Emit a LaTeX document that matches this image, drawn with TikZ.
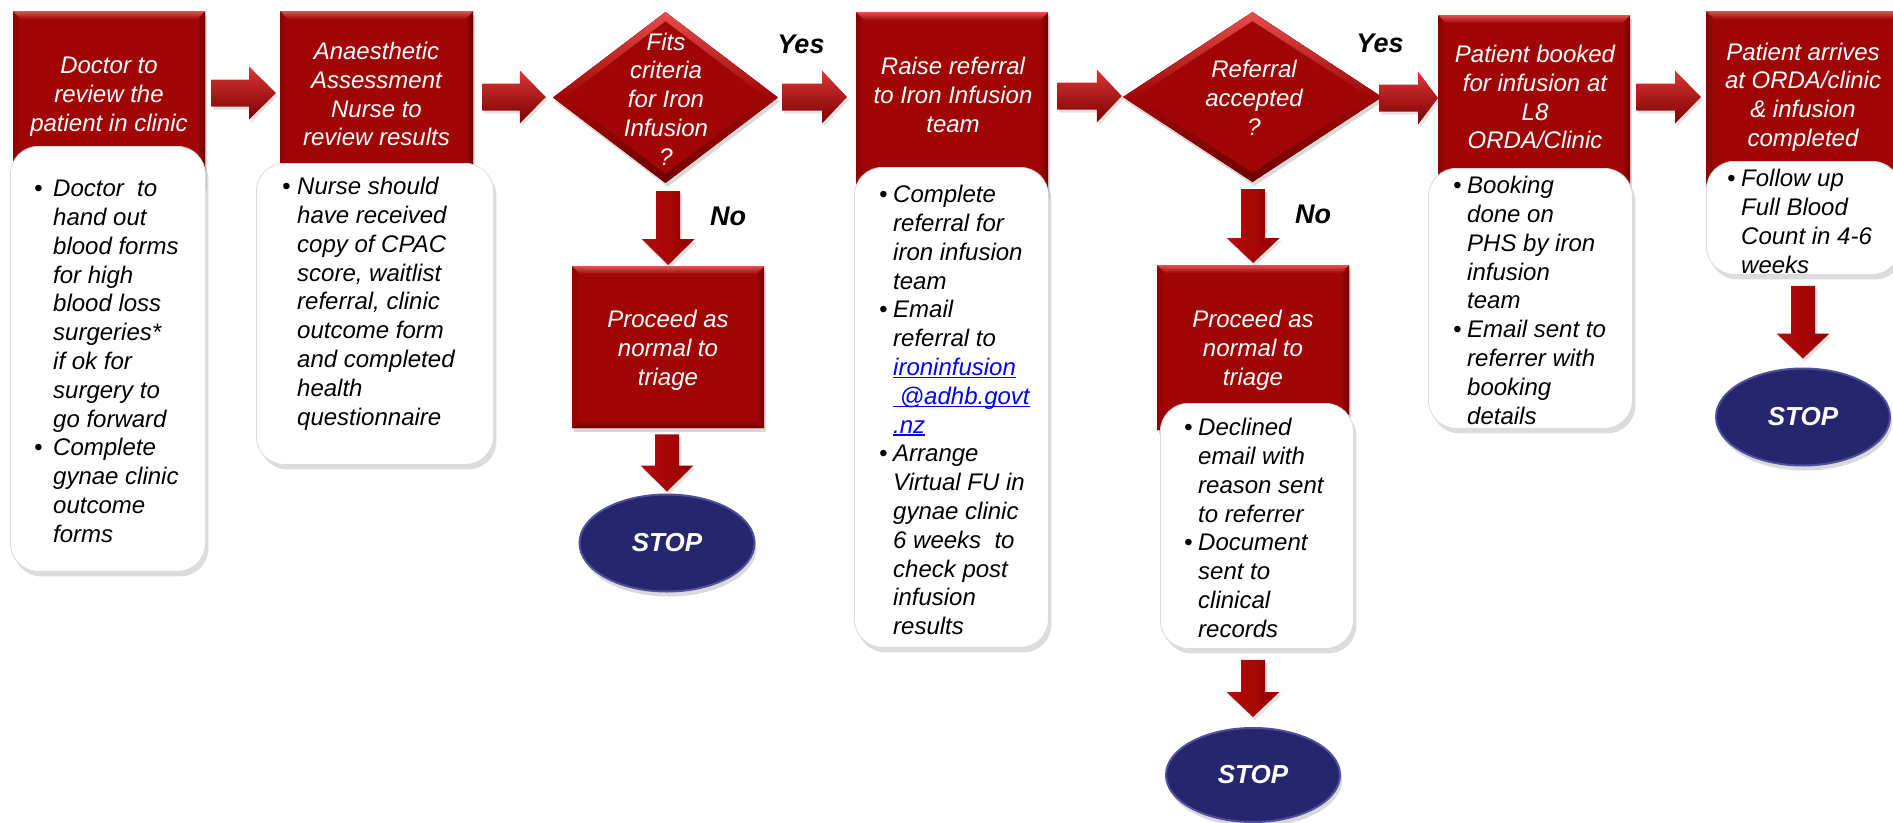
\documentclass[tikz,border=0pt]{standalone}
\usepackage{fontspec}
\setmainfont{Liberation Sans}
\usetikzlibrary{shapes.geometric,shadows,calc}

\definecolor{boxred}{RGB}{161,6,6}
\definecolor{bevellight}{RGB}{228,78,78}
\definecolor{bevelside}{RGB}{140,2,2}
\definecolor{beveldark}{RGB}{110,0,0}
\definecolor{arrtop}{RGB}{220,54,54}
\definecolor{arrmid}{RGB}{182,14,14}
\definecolor{arrbot}{RGB}{122,0,0}
\definecolor{arrleft}{RGB}{182,12,12}
\definecolor{arrridge}{RGB}{234,72,72}
\definecolor{arrright}{RGB}{150,0,0}
\definecolor{stopfill}{RGB}{38,38,110}
\definecolor{stoprim}{RGB}{78,78,158}
\definecolor{linkblue}{RGB}{0,0,255}

% line helpers for the multi-line texts
\newcommand\lnbr{\\\strut}
\newcommand\itm[1][14pt]{\strut\makebox[#1][l]{\textbullet}}
\newcommand\cnt[1][14pt]{\strut\hspace*{#1}}
\newcommand\ulink[1]{{\color{linkblue}\setbox0\hbox{#1}\rlap{\rule[-2.6pt]{\wd0}{1.3pt}}\box0}}

% block arrow pointing right: source anchor, target anchor, start gap, tip gap, y, head length
\newcommand\harrow[6]{%
  \path[harrowstyle] let \p1=(#1), \p2=(#2) in
    (\x1+#3pt,-#5pt+13.5pt) -- (\x2-#4pt-#6pt,-#5pt+13.5pt) -- (\x2-#4pt-#6pt,-#5pt+26.5pt)
    -- (\x2-#4pt,-#5pt) -- (\x2-#4pt-#6pt,-#5pt-26.5pt) -- (\x2-#4pt-#6pt,-#5pt-13.5pt)
    -- (\x1+#3pt,-#5pt-13.5pt) -- cycle;}
% block arrow pointing down: source anchor, target anchor, start gap, tip gap, head length
\newcommand\varrow[5]{%
  \path[varrowstyle] let \p1=(#1), \p2=(#2) in
    (\x2-12pt,\y1-#3pt) -- (\x2-12pt,\y2+#4pt+#5pt) -- (\x2-26.5pt,\y2+#4pt+#5pt)
    -- (\x2,\y2+#4pt) -- (\x2+26.5pt,\y2+#4pt+#5pt) -- (\x2+12pt,\y2+#4pt+#5pt)
    -- (\x2+12pt,\y1-#3pt) -- cycle;}

\tikzset{
  redbox/.style={rectangle, inner sep=0pt, anchor=north west, fill=boxred,
    drop shadow={opacity=0.3, shadow xshift=2pt, shadow yshift=-4pt},
    path picture={
      \coordinate (bnw) at (path picture bounding box.north west);
      \coordinate (bne) at (path picture bounding box.north east);
      \coordinate (bsw) at (path picture bounding box.south west);
      \coordinate (bse) at (path picture bounding box.south east);
      \fill[left color=bevelside, right color=boxred] (bnw) -- ([shift={(8pt,-8pt)}]bnw) -- ([shift={(8pt,8pt)}]bsw) -- (bsw) -- cycle;
      \fill[left color=boxred, right color=beveldark] (bne) -- ([shift={(-8pt,-8pt)}]bne) -- ([shift={(-8pt,8pt)}]bse) -- (bse) -- cycle;
      \fill[top color=boxred, bottom color=beveldark] (bsw) -- ([shift={(8pt,8pt)}]bsw) -- ([shift={(-8pt,8pt)}]bse) -- (bse) -- cycle;
      \fill[top color=bevellight, bottom color=boxred] (bnw) -- (bne) -- ([shift={(-8pt,-8pt)}]bne) -- ([shift={(8pt,-8pt)}]bnw) -- cycle;
    }},
  decision/.style={diamond, inner sep=0pt, fill=boxred,
    drop shadow={opacity=0.3, shadow xshift=2pt, shadow yshift=-4pt},
    path picture={
      \coordinate (dw) at (path picture bounding box.west);
      \coordinate (dn) at (path picture bounding box.north);
      \coordinate (de) at (path picture bounding box.east);
      \coordinate (ds) at (path picture bounding box.south);
      \fill[top color=bevellight, bottom color=boxred] (dw) -- (dn) -- (de) -- ([xshift=-12pt]de) -- ([yshift=-9pt]dn) -- ([xshift=12pt]dw) -- cycle;
      \fill[top color=boxred, bottom color=beveldark] (dw) -- (ds) -- (de) -- ([xshift=-12pt]de) -- ([yshift=9pt]ds) -- ([xshift=12pt]dw) -- cycle;
    }},
  whitebox/.style={rectangle, rounded corners=28pt, inner sep=0pt, anchor=north west,
    fill=white, draw=black!14, line width=0.8pt,
    drop shadow={opacity=0.28, shadow xshift=3pt, shadow yshift=-5pt}},
  stopnode/.style={ellipse, inner sep=0pt, fill=stopfill, draw=stoprim, line width=2pt,
    text=white, font=\fontsize{26}{30}\selectfont\bfseries\itshape,
    drop shadow={opacity=0.3, shadow xshift=2pt, shadow yshift=-5pt}},
  harrowstyle/.style={top color=arrtop, middle color=arrmid, bottom color=arrbot,
    drop shadow={opacity=0.22, shadow xshift=2pt, shadow yshift=-3pt}},
  varrowstyle/.style={left color=arrleft, middle color=arrridge, right color=arrright,
    drop shadow={opacity=0.22, shadow xshift=2pt, shadow yshift=-3pt}},
  hdr/.style={align=center, text=white, inner sep=0pt, font=\fontsize{24}{28.8}\selectfont\itshape},
  body/.style={align=left, text=black, inner sep=0pt, anchor=north west, font=\fontsize{24}{28.8}\selectfont\itshape},
  yn/.style={inner sep=0pt, font=\fontsize{27}{32}\selectfont\bfseries\itshape}
}

\begin{document}
\begin{tikzpicture}[x=1pt,y=-1pt]
\useasboundingbox (0,0) rectangle (1893,822);

% process steps
\node[redbox, minimum width=192pt, minimum height=174pt] (r1) at (13,11) {};
\node[redbox, minimum width=193pt, minimum height=179pt] (r2) at (280,11) {};
\node[redbox, minimum width=192pt, minimum height=183pt] (r3) at (856,12) {};
\node[redbox, minimum width=192pt, minimum height=162pt] (p1) at (572,266) {};
\node[redbox, minimum width=192pt, minimum height=165pt] (p2) at (1157,265) {};
\node[redbox, minimum width=192pt, minimum height=180pt] (r6) at (1438,15) {};
\node[redbox, minimum width=194pt, minimum height=179pt] (r7) at (1706,11) {};

% decisions
\node[decision, minimum width=225pt, minimum height=171pt] (d1) at (665.5,97.5) {};
\node[decision, minimum width=259pt, minimum height=170pt] (d2) at (1252.5,97) {};

% detail panels
\node[whitebox, minimum width=195pt, minimum height=425pt] (w1) at (10,146) {};
\node[whitebox, minimum width=237pt, minimum height=301pt] (w2) at (256,163) {};
\node[whitebox, minimum width=194pt, minimum height=480pt] (w3) at (854,167) {};
\node[whitebox, minimum width=193pt, minimum height=245pt] (w4) at (1160,403) {};
\node[whitebox, minimum width=204pt, minimum height=260pt] (w6) at (1428,168) {};
\node[whitebox, minimum width=194pt, minimum height=113pt] (w7) at (1706,161) {};

% terminators
\node[stopnode, minimum width=175pt, minimum height=97pt] (s1) at (667,543) {STOP};
\node[stopnode, minimum width=174pt, minimum height=94pt] (s2) at (1253,775) {STOP};
\node[stopnode, minimum width=174pt, minimum height=97pt] (s3) at (1803,417) {STOP};

% flow arrows
\harrow{r1.east}{r2.west}{6}{4}{93}{27}
\harrow{r2.east}{d1.west}{9}{7}{97}{26}
\harrow{d1.east}{r3.west}{4}{9}{97}{25}
\harrow{r3.east}{d2.west}{9}{1}{96}{25}
\harrow{d2.east}{r6.west}{-3}{0}{98}{20}
\harrow{r6.east}{r7.west}{6}{5}{97}{26}

\varrow{d1.south}{p1.north}{8}{1}{26}
\varrow{p1.south}{s1.north}{6}{2}{26}
\varrow{d2.south}{p2.north}{7}{2}{25}
\varrow{w4.south}{s2.north}{11}{10}{25}
\varrow{w7.south}{s3.north}{11}{9}{25}

% branch labels
\node[yn] (yes1) at (801,44) {Yes};
\node[yn] (yes2) at (1380,43) {Yes};
\node[yn] (no1) at (728,216) {No};
\node[yn] (no2) at (1313,214) {No};

% step titles
\node[hdr] (r1t) at (109,97) {\strut Doctor to\lnbr review the\lnbr patient in clinic};
\node[hdr] (r2t) at (376.5,97) {\strut Anaesthetic\lnbr Assessment\lnbr Nurse to\lnbr review results};
\node[hdr] (d1t) at (666,102) {\strut Fits\lnbr criteria\lnbr for Iron\lnbr Infusion\lnbr ?};
\node[hdr] (r3t) at (953,98) {\strut Raise referral\lnbr to Iron Infusion\lnbr team};
\node[hdr] (d2t) at (1254,101) {\strut Referral\lnbr accepted\lnbr ?};
\node[hdr] (p1t) at (668,351) {\strut Proceed as\lnbr normal to\lnbr triage};
\node[hdr] (p2t) at (1253,351) {\strut Proceed as\lnbr normal to\lnbr triage};
\node[hdr] (r6t) at (1535,100) {\strut Patient booked\lnbr for infusion at\lnbr L8\lnbr ORDA/Clinic};
\node[hdr] (r7t) at (1803,97.5) {\strut Patient arrives\lnbr at ORDA/clinic\lnbr \& infusion\lnbr completed};

% step details
\node[body] (w1t) at (34,176.3) {\itm[19pt]Doctor\ \ to\\\cnt[19pt]hand out\\\cnt[19pt]blood forms\\\cnt[19pt]for high\\\cnt[19pt]blood loss\\\cnt[19pt]surgeries*\\\cnt[19pt]if ok for\\\cnt[19pt]surgery to\\\cnt[19pt]go forward\\\itm[19pt]Complete\\\cnt[19pt]gynae clinic\\\cnt[19pt]outcome\\\cnt[19pt]forms};
\node[body] (w2t) at (282,174.3) {\itm[15pt]Nurse should\\\cnt[15pt]have received\\\cnt[15pt]copy of CPAC\\\cnt[15pt]score, waitlist\\\cnt[15pt]referral, clinic\\\cnt[15pt]outcome form\\\cnt[15pt]and completed\\\cnt[15pt]health\\\cnt[15pt]questionnaire};
\node[body] (w3t) at (879,182.3) {\itm Complete\\\cnt referral for\\\cnt iron infusion\\\cnt team\\\itm Email\\\cnt referral to\\\cnt\ulink{ironinfusion}\\\cnt\ulink{\ @adhb.govt}\\\cnt\ulink{.nz}\\\itm Arrange\\\cnt Virtual FU in\\\cnt gynae clinic\\\cnt 6 weeks\ \ to\\\cnt check post\\\cnt infusion\\\cnt results};
\node[body] (w4t) at (1184,415.3) {\itm Declined\\\cnt email with\\\cnt reason sent\\\cnt to referrer\\\itm Document\\\cnt sent to\\\cnt clinical\\\cnt records};
\node[body] (w6t) at (1453,173.3) {\itm Booking\\\cnt done on\\\cnt PHS by iron\\\cnt infusion\\\cnt team\\\itm Email sent to\\\cnt referrer with\\\cnt booking\\\cnt details};
\node[body] (w7t) at (1727,166.3) {\itm Follow up\\\cnt Full Blood\\\cnt Count in 4-6\\\cnt weeks};
\end{tikzpicture}
\end{document}
